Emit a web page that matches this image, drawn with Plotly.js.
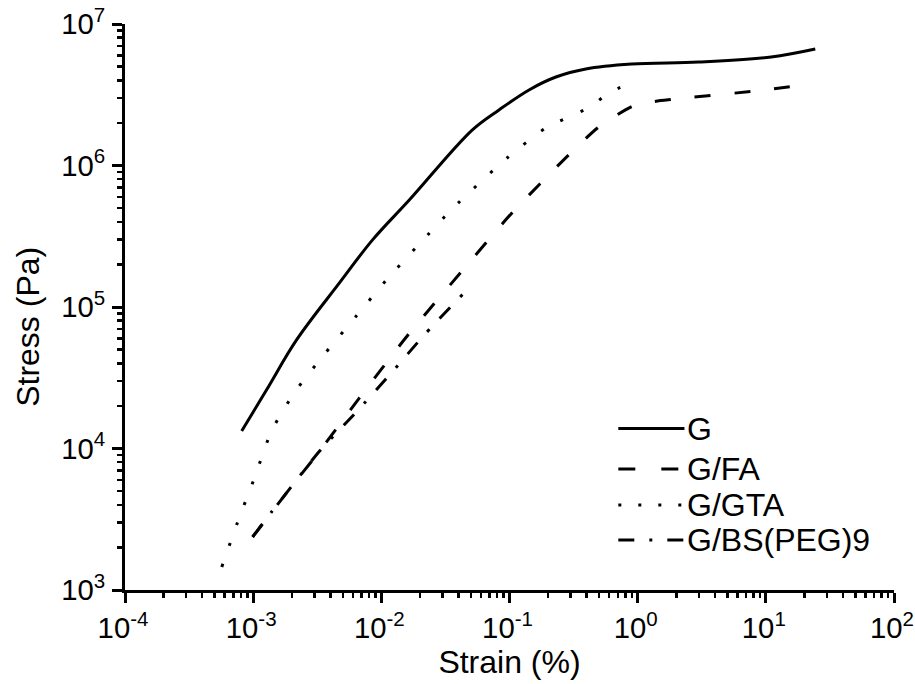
<!DOCTYPE html>
<html>
<head>
<meta charset="utf-8">
<script src="https://cdn.plot.ly/plotly-3.0.1.min.js"></script>
<style>
  html, body { margin: 0; padding: 0; background: #fff; }
  #chart { width: 915px; height: 684px; }
</style>
</head>
<body>
<div id="chart"></div>
<script>
// ---- data ----
const seriesNames = ['G', 'G/FA', 'G/GTA', 'G/BS(PEG)9'];

const strainG = [8.14e-4, 1.27e-3, 2.18e-3, 4.71e-3, 8.51e-3, 0.01652, 0.0511, 0.0828, 0.142, 0.23, 0.394, 0.898, 2.98, 11.0, 24.3];
const stressG = [1.33e4, 2.59e4, 5.85e4, 1.48e5, 2.97e5, 5.70e5, 1.78e6, 2.47e6, 3.42e6, 4.22e6, 4.81e6, 5.21e6, 5.39e6, 5.85e6, 6.66e6];

const strainFA = [9.9e-4, 1.79e-3, 3.3e-3, 6.75e-3, 0.0159, 0.042, 0.1045, 0.29, 0.497, 0.964, 1.98, 8.28, 19.6];
const stressFA = [2370, 4760, 9590, 2.28e4, 6.24e4, 1.77e5, 4.62e5, 1.19e6, 1.87e6, 2.68e6, 2.95e6, 3.36e6, 3.71e6];

const strainGTA = [5.69e-4, 7.57e-4, 1.03e-3, 1.39e-3, 2.14e-3, 3.66e-3, 6.38e-3, 0.01114, 0.0201, 0.0363, 0.0957, 0.192, 0.423, 0.594, 0.914];
const stressGTA = [1456, 3027, 6290, 1.33e4, 2.55e4, 4.73e4, 8.64e4, 1.58e5, 2.83e5, 5.01e5, 1.13e6, 1.84e6, 2.59e6, 3.25e6, 3.89e6];

const strainBS = [9.9e-4, 1.39e-3, 1.79e-3, 3.3e-3, 6.38e-3, 0.01197, 0.0216, 0.0443];
const stressBS = [2370, 3560, 4760, 9590, 1.81e4, 3.42e4, 6.34e4, 1.26e5];

const xTickVals = [1e-4, 1e-3, 1e-2, 1e-1, 1, 10, 100];
const xTickText = ['10<sup>-4</sup>', '10<sup>-3</sup>', '10<sup>-2</sup>', '10<sup>-1</sup>', '10<sup>0</sup>', '10<sup>1</sup>', '10<sup>2</sup>'];
const yTickVals = [1e3, 1e4, 1e5, 1e6, 1e7];
const yTickText = ['10<sup>3</sup>', '10<sup>4</sup>', '10<sup>5</sup>', '10<sup>6</sup>', '10<sup>7</sup>'];

// ---- styles ----
const FONT = '"Liberation Sans", Arial, Helvetica, sans-serif';
const dashes = ['solid', '16px,24px', '3px,19px', '15px,15px,3px,15px'];
const legendDashes = ['solid', '17px,26px', '3px,17px', '16px,15px,3px,15px'];
const smooth = [1.0, 0.6, 0.6, 0.6];
// plotly scales log-axis array tick labels by 0.75, so compensate to get ~22px
const TICK_SIZE = 29.3;

const xs = [strainG, strainFA, strainGTA, strainBS];
const ys = [stressG, stressFA, stressGTA, stressBS];

const traces = seriesNames.map((name, i) => ({
  x: xs[i], y: ys[i], name: name,
  type: 'scatter', mode: 'lines',
  line: { color: '#000', width: 3, dash: dashes[i], shape: 'spline', smoothing: smooth[i] },
  showlegend: false
}));

// minor tick positions (2..9 within each decade)
function minorVals(majors) {
  const out = [];
  for (let k = 0; k < majors.length - 1; k++) {
    for (let m = 2; m <= 9; m++) out.push(majors[k] * m);
  }
  return out;
}

// custom legend (long line samples like the reference)
const legX0 = 0.6415, legX1 = 0.7275, legTextX = 0.7277;
const legY = [0.2853, 0.2138, 0.1502, 0.0883];
const shapes = seriesNames.map((n, i) => ({
  type: 'line', xref: 'paper', yref: 'paper',
  x0: legX0, x1: legX1, y0: legY[i], y1: legY[i],
  line: { color: '#000', width: 3, dash: legendDashes[i] }
}));
const annotations = seriesNames.map((n, i) => ({
  xref: 'paper', yref: 'paper', x: legTextX, y: legY[i],
  xanchor: 'left', yanchor: 'middle', showarrow: false,
  text: n, font: { family: FONT, size: 32, color: '#000' }
}));
// y axis title placed like the reference (slightly below the axis centre)
annotations.push({
  xref: 'paper', yref: 'paper', x: -0.1263, y: 0.4647,
  xanchor: 'center', yanchor: 'middle', showarrow: false, textangle: -90,
  text: 'Stress (Pa)', font: { family: FONT, size: 32, color: '#000' }
});

function axisBase(vals, text) {
  return {
    type: 'log', tickmode: 'array', tickvals: vals, ticktext: text,
    ticklabeloverflow: 'allow',
    showline: true, linewidth: 3, linecolor: '#000', mirror: false,
    ticks: 'outside', ticklen: 10, tickwidth: 3, tickcolor: '#000',
    showgrid: false, zeroline: false,
    tickfont: { family: FONT, size: TICK_SIZE, color: '#000' },
    minor: { tickmode: 'array', tickvals: minorVals(vals), ticks: 'outside', ticklen: 5, tickwidth: 2.5, tickcolor: '#000', showgrid: false }
  };
}

const layout = {
  width: 915, height: 684,
  margin: { l: 125, r: 21, t: 24, b: 94 },
  paper_bgcolor: '#fff', plot_bgcolor: '#fff',
  font: { family: FONT, color: '#000' },
  showlegend: false,
  xaxis: Object.assign(axisBase(xTickVals, xTickText), {
    range: [-4, 2],
    ticklabelshift: -2,
    title: { text: 'Strain (%)', font: { family: FONT, size: 32, color: '#000' }, standoff: 6 }
  }),
  yaxis: Object.assign(axisBase(yTickVals, yTickText), {
    range: [3, 7],
    ticklabelstandoff: 1
  }),
  shapes: shapes,
  annotations: annotations
};

Plotly.newPlot('chart', traces, layout, { displayModeBar: false, staticPlot: true });
</script>
</body>
</html>
